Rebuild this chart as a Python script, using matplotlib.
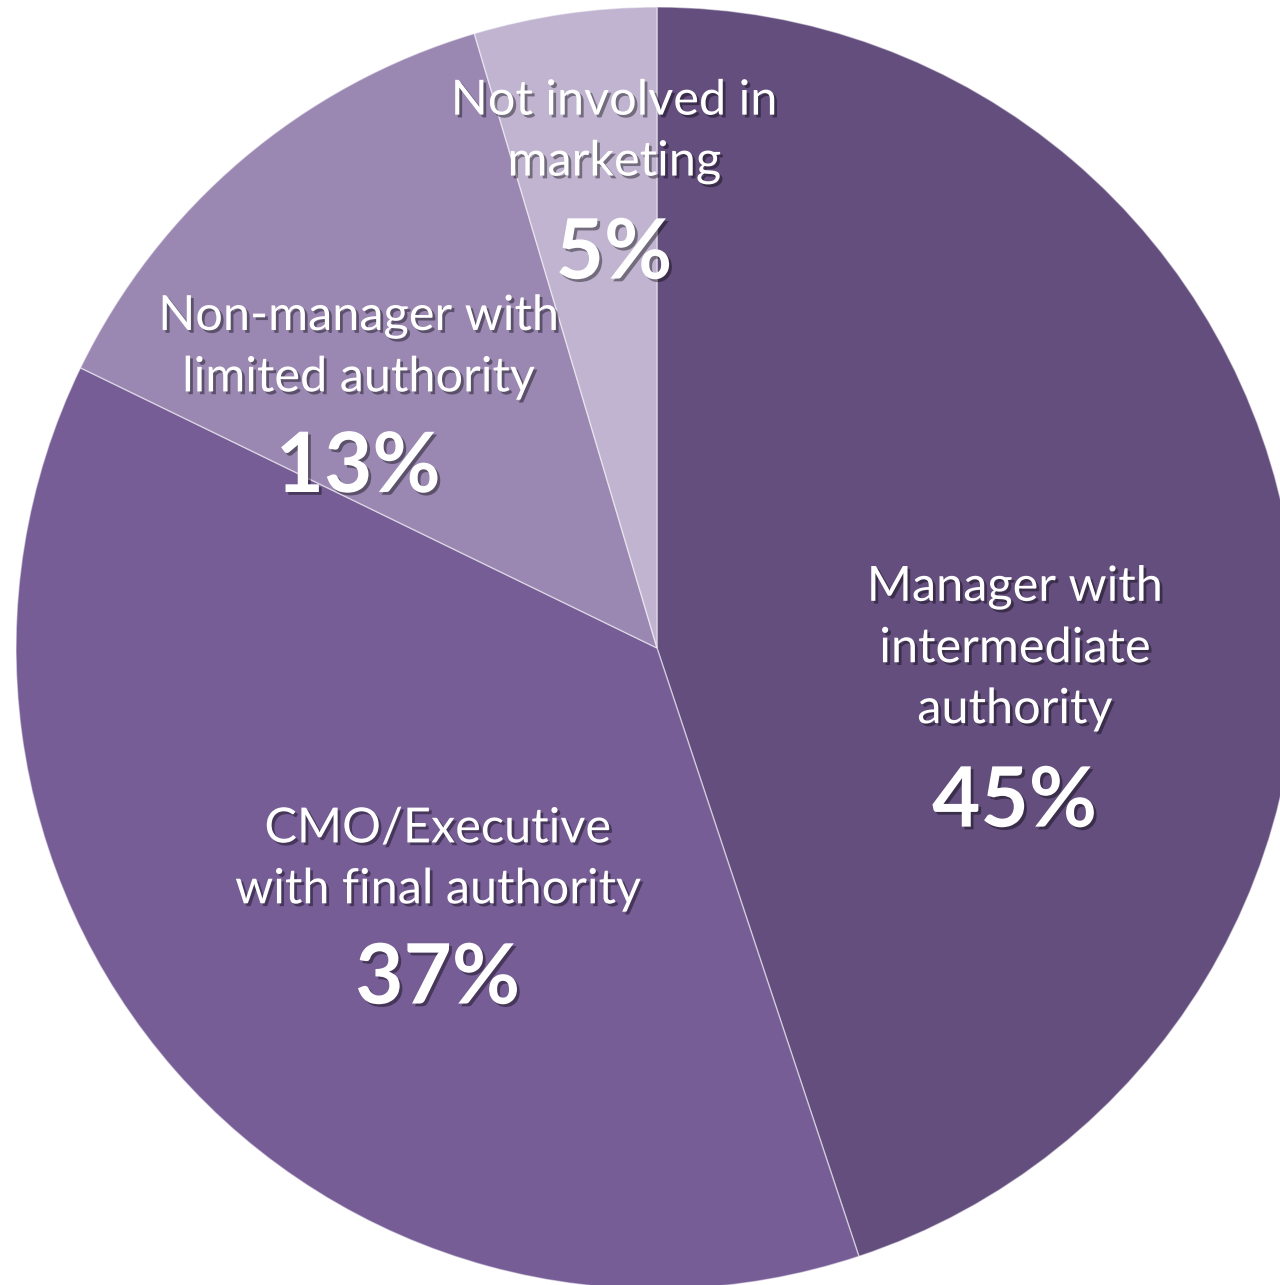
import matplotlib.pyplot as plt
import matplotlib.patheffects as pe

# data (shares; labels show the rounded values)
categories = ["Manager with\nintermediate\nauthority",
              "CMO/Executive\nwith final authority",
              "Non-manager with\nlimited authority",
              "Not involved in\nmarketing"]
shares = [44.9, 37.3, 13.2, 4.6]
colors = ["#634E7E", "#765D96", "#9A87B2", "#C0B4D0"]

# label block offsets from the pie centre, in units of the radius (x, y of name, y of pct)
label_pos = [(0.558, 0.0, -0.242),
             (-0.342, -0.329, -0.518),
             (-0.466, 0.47, 0.28),
             (-0.067, 0.806, 0.613)]

W, H = 1280, 1285
cx, cy, r = 657, H - 648, 641

fig = plt.figure(figsize=(W / 100, H / 100), dpi=100)
ax = fig.add_axes([0, 0, 1, 1])

ax.pie(shares, colors=colors, startangle=90, counterclock=False,
       center=(cx, cy), radius=r, frame=True,
       wedgeprops=dict(edgecolor=(1, 1, 1, 0.5), linewidth=1))
ax.set_xlim(0, W)
ax.set_ylim(0, H)
ax.set_aspect("auto")
ax.axis("off")

shadow = [pe.SimplePatchShadow(offset=(2, -2), shadow_rgbFace="black", alpha=0.4),
          pe.Normal()]

for name, val, (fx, fy, fp) in zip(categories, shares, label_pos):
    ax.text(cx + fx * r, cy + fy * r, name, ha="center", va="center",
            color="white", fontsize=35, family="Lato", linespacing=1.47,
            path_effects=shadow)
    ax.text(cx + fx * r, cy + fp * r, f"{round(val)}%", ha="center", va="center",
            color="white", fontsize=60, family="Lato", fontweight="bold",
            path_effects=shadow)

fig.savefig("out.png", dpi=100, facecolor="white")
